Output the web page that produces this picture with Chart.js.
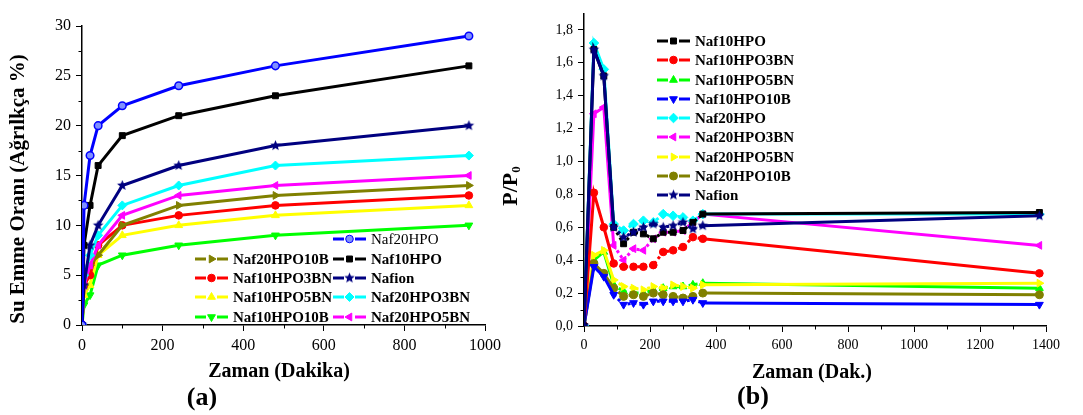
<!DOCTYPE html>
<html>
<head>
<meta charset="utf-8">
<script src="https://cdn.jsdelivr.net/npm/chart.js@4.4.1/dist/chart.umd.min.js"></script>
<style>
  body { margin: 0; background: #fff; }
  #wrap { position: relative; width: 1083px; height: 415px; overflow: hidden; background: #fff; }
  canvas { position: absolute; top: 0; }
  #sol { left: 0; }
  #sag { left: 480px; }
</style>
</head>
<body>
<div id="wrap">
  <canvas id="sol" width="540" height="415"></canvas>
  <canvas id="sag" width="603" height="415"></canvas>
</div>
<script>
// (a) Su emme oranı - zaman (dakika)
const zamanA = [0, 5, 20, 40, 100, 240, 480, 960];
const aNaf20HPO = [0, 12, 17, 20, 22, 24, 26, 29];
const aNaf10HPO = [0, 8, 12, 16, 19, 21, 23, 26];
const aNafion = [0, 4, 8, 10, 14, 16, 18, 20];
const aNaf20HPO3BN = [0, 5, 7, 9, 12, 14, 16, 17];
const aNaf20HPO5BN = [0, 4, 6, 8, 11, 13, 14, 15];
const aNaf20HPO10B = [0, 4, 6, 7, 10, 12, 13, 14];
const aNaf10HPO3BN = [0, 4, 5, 8, 10, 11, 12, 13];
const aNaf10HPO5BN = [0, 3, 4, 7, 9, 10, 11, 12];
const aNaf10HPO10B = [0, 2, 3, 6, 7, 8, 9, 10];

// (b) P/P0 - zaman (dak.)
const zamanB = [0, 30, 60, 90, 120, 150, 180, 210, 240, 270, 300, 330, 360, 1380];
const bNaf10HPO = [0, 1.68, 1.52, 0.60, 0.50, 0.57, 0.56, 0.53, 0.57, 0.57, 0.58, 0.63, 0.68, 0.69];
const bNaf10HPO3BN = [0, 0.81, 0.60, 0.38, 0.36, 0.36, 0.36, 0.37, 0.45, 0.46, 0.48, 0.54, 0.53, 0.32];
const bNaf10HPO5BN = [0, 0.40, 0.45, 0.25, 0.21, 0.20, 0.20, 0.22, 0.23, 0.24, 0.24, 0.25, 0.26, 0.23];
const bNaf10HPO10B = [0, 0.36, 0.30, 0.19, 0.13, 0.14, 0.13, 0.15, 0.15, 0.15, 0.15, 0.16, 0.14, 0.13];
const bNaf20HPO = [0, 1.72, 1.56, 0.62, 0.58, 0.62, 0.64, 0.63, 0.68, 0.67, 0.66, 0.64, 0.68, 0.68];
const bNaf20HPO3BN = [0, 1.29, 1.33, 0.49, 0.40, 0.47, 0.46, 0.53, 0.57, 0.57, 0.58, 0.63, 0.68, 0.49];
const bNaf20HPO5BN = [0, 0.43, 0.46, 0.28, 0.24, 0.23, 0.22, 0.24, 0.23, 0.25, 0.24, 0.23, 0.25, 0.26];
const bNaf20HPO10B = [0, 0.38, 0.32, 0.23, 0.18, 0.19, 0.18, 0.20, 0.19, 0.18, 0.17, 0.18, 0.20, 0.19];
const bNafion = [0, 1.68, 1.52, 0.60, 0.54, 0.57, 0.60, 0.62, 0.60, 0.61, 0.63, 0.59, 0.61, 0.67];

// eksen işaretleri
const aXTicks = [0, 200, 400, 600, 800, 1000];
const aXMinor = [100, 300, 500, 700, 900];
const aYTicks = [0, 5, 10, 15, 20, 25, 30];
const aYMinor = [2.5, 7.5, 12.5, 17.5, 22.5, 27.5];
const bXTicks = [0, 200, 400, 600, 800, 1000, 1200, 1400];
const bXMinor = [100, 300, 500, 700, 900, 1100, 1300];
const bYTicks = [0, 0.2, 0.4, 0.6, 0.8, 1.0, 1.2, 1.4, 1.6, 1.8];
const bYMinor = [0.1, 0.3, 0.5, 0.7, 0.9, 1.1, 1.3, 1.5, 1.7];

const SERIF = "'Liberation Serif', 'Times New Roman', serif";
Chart.defaults.color = '#000';

// dolu beş köşeli yıldız (Chart.js'in 'star'ı çizgi olduğu için)
function yildiz(renk, r) {
  const c = document.createElement('canvas');
  c.width = c.height = Math.ceil(2 * r + 2);
  const g = c.getContext('2d');
  const m = c.width / 2;
  g.beginPath();
  for (let i = 0; i < 10; i++) {
    const rr = i % 2 ? r * 0.45 : r;
    const a = -Math.PI / 2 + i * Math.PI / 5;
    g.lineTo(m + rr * Math.cos(a), m + rr * Math.sin(a));
  }
  g.closePath();
  g.fillStyle = renk;
  g.fill();
  return c;
}

// seri stilleri: renk, işaret, dönüş
const stil = {
  Naf20HPO_a: { c: '#0000ff', ps: 'circle', r: 3.8, fill: '#7f8fff' },
  Naf10HPO: { c: '#000000', ps: 'rect', r: 4.2 },
  Nafion: { c: '#000080', ps: 'img', r: 5.5 },
  Naf20HPO3BN: { c: '#00ffff', ps: 'rectRot', r: 4.5 },
  Naf20HPO5BN: { c: '#ff00ff', ps: 'triangle', rot: 270, r: 4.5 },
  Naf20HPO10B: { c: '#808000', ps: 'triangle', rot: 90, r: 4.5 },
  Naf10HPO3BN: { c: '#ff0000', ps: 'circle', r: 3.8 },
  Naf10HPO5BN: { c: '#ffff00', ps: 'triangle', r: 4.5 },
  Naf10HPO10B: { c: '#00ff00', ps: 'triangle', rot: 180, r: 4.5 }
};
const stilB = {
  Naf10HPO: { c: '#000000', ps: 'rect', r: 4.2 },
  Naf10HPO3BN: { c: '#ff0000', ps: 'circle', r: 3.8 },
  Naf10HPO5BN: { c: '#00ff00', ps: 'triangle', r: 4.5 },
  Naf10HPO10B: { c: '#0000ff', ps: 'triangle', rot: 180, r: 4.5 },
  Naf20HPO: { c: '#00ffff', ps: 'rectRot', r: 4.8 },
  Naf20HPO3BN: { c: '#ff00ff', ps: 'triangle', rot: 270, r: 4.5 },
  Naf20HPO5BN: { c: '#ffff00', ps: 'triangle', rot: 90, r: 4.5 },
  Naf20HPO10B: { c: '#808000', ps: 'circle', r: 4 },
  Nafion: { c: '#000080', ps: 'img', r: 5.5 }
};

function seri(label, xs, ys, st, ekstra) {
  const ps = st.ps === 'img' ? yildiz(st.c, st.r) : st.ps;
  return Object.assign({
    label: label,
    data: xs.map((x, i) => ({ x: x, y: ys[i] })),
    borderColor: st.c,
    backgroundColor: st.c,
    pointBackgroundColor: st.fill || st.c,
    pointBorderColor: st.c,
    pointBorderWidth: st.fill ? 1.5 : 1,
    pointStyle: ps,
    pointRotation: st.rot || 0,
    pointRadius: st.r,
    borderWidth: 3,
    tension: 0,
    fill: false
  }, ekstra || {});
}

// küçük işaretler, başlıklar ve lejant
function dekor(cfg) {
  return {
    id: 'dekor',
    afterDraw(chart) {
      const ctx = chart.ctx, ca = chart.chartArea;
      const xs = chart.scales.x, ys = chart.scales.y;
      ctx.save();
      ctx.strokeStyle = '#000';
      ctx.lineWidth = 1;
      cfg.xMinor.forEach(v => {
        const px = Math.round(xs.getPixelForValue(v)) + 0.5;
        ctx.beginPath(); ctx.moveTo(px, ca.bottom); ctx.lineTo(px, ca.bottom + 3.5); ctx.stroke();
      });
      cfg.yMinor.forEach(v => {
        const py = Math.round(ys.getPixelForValue(v)) + 0.5;
        ctx.beginPath(); ctx.moveTo(ca.left, py); ctx.lineTo(ca.left - 3.5, py); ctx.stroke();
      });

      // lejant
      cfg.legend.forEach(e => {
        const d = chart.data.datasets.find(s => s.label === e.label);
        const y = e.y;
        ctx.strokeStyle = d.borderColor;
        ctx.lineWidth = 3;
        ctx.beginPath();
        ctx.moveTo(e.x, y); ctx.lineTo(e.x + 11, y);
        ctx.moveTo(e.x + 22, y); ctx.lineTo(e.x + 33, y);
        ctx.stroke();
        ctx.fillStyle = d.pointBackgroundColor;
        ctx.strokeStyle = d.pointBorderColor;
        ctx.lineWidth = 1;
        Chart.helpers.drawPoint(ctx, {
          pointStyle: d.pointStyle, rotation: d.pointRotation,
          radius: d.pointRadius, borderWidth: d.pointBorderWidth
        }, e.x + 16.5, y);
        ctx.fillStyle = '#000';
        ctx.font = (e.bold === false ? '' : 'bold ') + '15px ' + SERIF;
        ctx.textAlign = 'left';
        ctx.textBaseline = 'middle';
        ctx.fillText(e.label, e.x + 38, y + 1);
      });

      // başlıklar
      cfg.titles.forEach(t => {
        ctx.save();
        ctx.translate(t.x, t.y);
        if (t.rot) ctx.rotate(t.rot);
        ctx.fillStyle = '#000';
        ctx.textBaseline = 'middle';
        ctx.font = t.font;
        if (t.sub) {
          const w1 = ctx.measureText(t.text).width;
          ctx.font = t.subFont;
          const w2 = ctx.measureText(t.sub).width;
          let x0 = -(w1 + w2) / 2;
          ctx.textAlign = 'left';
          ctx.font = t.font;
          ctx.fillText(t.text, x0, 0);
          ctx.font = t.subFont;
          ctx.fillText(t.sub, x0 + w1, 6);
        } else {
          ctx.textAlign = 'center';
          ctx.fillText(t.text, 0, 0);
        }
        ctx.restore();
      });
      ctx.restore();
    }
  };
}

function eksen(min, max, ticks, font, fit, cb) {
  return {
    type: 'linear',
    min: min,
    max: max,
    afterBuildTicks: s => { s.ticks = ticks.map(v => ({ value: v })); },
    afterFit: fit,
    ticks: { font: { family: SERIF, size: font }, color: '#000', padding: 5, maxRotation: 0, autoSkip: false, callback: cb },
    grid: { drawOnChartArea: false, drawTicks: true, tickLength: 6, tickColor: '#000', tickWidth: 1 },
    border: { display: true, color: '#000', width: 1.5 }
  };
}

// ---------- (a) ----------
const dsA = [
  seri('Naf20HPO', zamanA, aNaf20HPO, stil.Naf20HPO_a),
  seri('Naf10HPO', zamanA, aNaf10HPO, stil.Naf10HPO),
  seri('Nafion', zamanA, aNafion, stil.Nafion),
  seri('Naf20HPO3BN', zamanA, aNaf20HPO3BN, stil.Naf20HPO3BN),
  seri('Naf20HPO5BN', zamanA, aNaf20HPO5BN, stil.Naf20HPO5BN),
  seri('Naf20HPO10B', zamanA, aNaf20HPO10B, stil.Naf20HPO10B),
  seri('Naf10HPO3BN', zamanA, aNaf10HPO3BN, stil.Naf10HPO3BN),
  seri('Naf10HPO5BN', zamanA, aNaf10HPO5BN, stil.Naf10HPO5BN),
  seri('Naf10HPO10B', zamanA, aNaf10HPO10B, stil.Naf10HPO10B)
];

new Chart(document.getElementById('sol'), {
  type: 'line',
  data: { datasets: dsA },
  options: {
    responsive: false,
    animation: false,
    devicePixelRatio: 1,
    layout: { padding: { top: 26, right: 55, bottom: 0, left: 0 } },
    plugins: { legend: { display: false }, tooltip: { enabled: false } },
    scales: {
      x: eksen(0, 1000, aXTicks, 16, s => { s.height = 90; }, v => String(v)),
      y: eksen(0, 30, aYTicks, 16, s => { s.width = 82; }, v => String(v))
    }
  },
  plugins: [dekor({
    xMinor: aXMinor, yMinor: aYMinor,
    legend: [
      { label: 'Naf20HPO', x: 333, y: 239, bold: false },
      { label: 'Naf20HPO10B', x: 195, y: 259 },
      { label: 'Naf10HPO', x: 333, y: 259 },
      { label: 'Naf10HPO3BN', x: 195, y: 278 },
      { label: 'Nafion', x: 333, y: 278 },
      { label: 'Naf10HPO5BN', x: 195, y: 297 },
      { label: 'Naf20HPO3BN', x: 333, y: 297 },
      { label: 'Naf10HPO10B', x: 195, y: 317 },
      { label: 'Naf20HPO5BN', x: 333, y: 317 }
    ],
    titles: [
      { text: 'Su Emme Oranı (Ağrılkça %)', x: 19, y: 189, rot: -Math.PI / 2, font: 'bold 21px ' + SERIF },
      { text: 'Zaman (Dakika)', x: 279, y: 372, font: 'bold 20px ' + SERIF },
      { text: '(a)', x: 202, y: 398, font: 'bold 26px ' + SERIF }
    ]
  })]
});

// ---------- (b) ----------
// 90-360 dk arası noktalı çizgi
const noktali = { segment: { borderDash: c => (c.p0.parsed.x >= 90 && c.p1.parsed.x <= 360) ? [3, 3] : undefined } };
const dsB = [
  seri('Naf10HPO', zamanB, bNaf10HPO, stilB.Naf10HPO, Object.assign({ order: 1 }, noktali)),
  seri('Naf10HPO3BN', zamanB, bNaf10HPO3BN, stilB.Naf10HPO3BN, Object.assign({ order: 3 }, noktali)),
  seri('Naf10HPO5BN', zamanB, bNaf10HPO5BN, stilB.Naf10HPO5BN, Object.assign({ order: 6 }, noktali)),
  seri('Naf10HPO10B', zamanB, bNaf10HPO10B, stilB.Naf10HPO10B, Object.assign({ order: 4 }, noktali)),
  seri('Naf20HPO', zamanB, bNaf20HPO, stilB.Naf20HPO, Object.assign({ order: 2 }, noktali)),
  seri('Naf20HPO3BN', zamanB, bNaf20HPO3BN, stilB.Naf20HPO3BN, Object.assign({ order: 3 }, noktali)),
  seri('Naf20HPO5BN', zamanB, bNaf20HPO5BN, stilB.Naf20HPO5BN, Object.assign({ order: 5 }, noktali)),
  seri('Naf20HPO10B', zamanB, bNaf20HPO10B, stilB.Naf20HPO10B, Object.assign({ order: 4 }, noktali)),
  seri('Nafion', zamanB, bNafion, stilB.Nafion, Object.assign({ order: 0 }, noktali))
];

new Chart(document.getElementById('sag'), {
  type: 'line',
  data: { datasets: dsB },
  options: {
    responsive: false,
    animation: false,
    devicePixelRatio: 1,
    layout: { padding: { top: 8, right: 37, bottom: 0, left: 0 } },
    plugins: { legend: { display: false }, tooltip: { enabled: false } },
    scales: {
      x: eksen(0, 1400, bXTicks, 14, s => { s.height = 89; }, v => String(v)),
      y: eksen(0, 1.9, bYTicks, 14, s => { s.width = 104; }, v => v.toFixed(1).replace('.', ','))
    }
  },
  plugins: [dekor({
    xMinor: bXMinor, yMinor: bYMinor,
    legend: [
      { label: 'Naf10HPO', x: 177, y: 41 },
      { label: 'Naf10HPO3BN', x: 177, y: 60 },
      { label: 'Naf10HPO5BN', x: 177, y: 80 },
      { label: 'Naf10HPO10B', x: 177, y: 99 },
      { label: 'Naf20HPO', x: 177, y: 118 },
      { label: 'Naf20HPO3BN', x: 177, y: 137 },
      { label: 'Naf20HPO5BN', x: 177, y: 157 },
      { label: 'Naf20HPO10B', x: 177, y: 176 },
      { label: 'Nafion', x: 177, y: 195 }
    ],
    titles: [
      { text: 'P/P', sub: '0', x: 31, y: 186, rot: -Math.PI / 2, font: 'bold 22px ' + SERIF, subFont: 'bold 13px ' + SERIF },
      { text: 'Zaman (Dak.)', x: 332, y: 373, font: 'bold 20px ' + SERIF },
      { text: '(b)', x: 273, y: 397, font: 'bold 26px ' + SERIF }
    ]
  })]
});
</script>
</body>
</html>
